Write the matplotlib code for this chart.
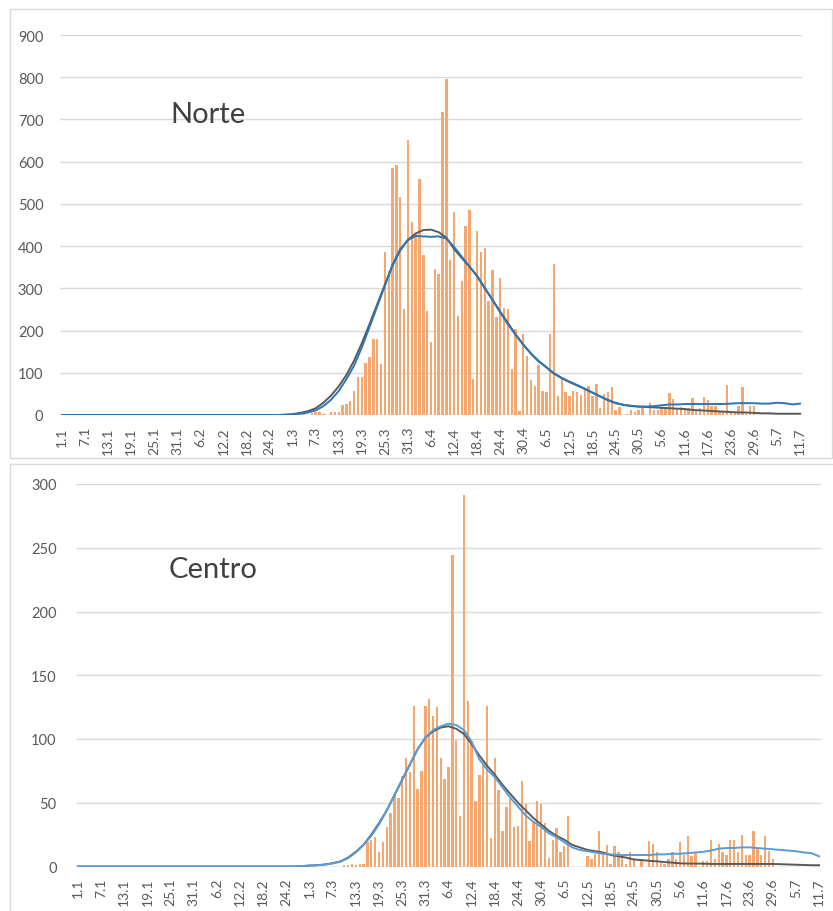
import matplotlib.pyplot as plt
from matplotlib.patches import Rectangle

plt.rcParams['font.family'] = ['Lato', 'DejaVu Sans']

# day categories 1.1 .. 11.7 (193 days), labelled every 6th day
n_days = 193
tick_labels = ['1.1', '7.1', '13.1', '19.1', '25.1', '31.1', '6.2', '12.2', '18.2', '24.2',
               '1.3', '7.3', '13.3', '19.3', '25.3', '31.3', '6.4', '12.4', '18.4', '24.4',
               '30.4', '6.5', '12.5', '18.5', '24.5', '30.5', '5.6', '11.6', '17.6', '23.6',
               '29.6', '5.7', '11.7']

# daily new cases, Norte
norte_cases = [0] * 61 + [
    1, 0, 2, 1, 5, 8, 6, 2, 0, 8, 6, 8,
    24, 25, 34, 58, 91, 91, 123, 137, 180, 180,
    121, 385, 340, 584, 592, 516, 251, 652, 458, 429,
    560, 380, 247, 174, 346, 333, 717, 796, 367, 481,
    235, 318, 447, 486, 85, 436, 386, 395, 270, 344,
    231, 324, 253, 251, 109, 204, 10, 192, 140, 83,
    68, 118, 58, 55, 193, 357, 45, 87, 55, 44,
    58, 54, 47, 62, 68, 44, 73, 16, 50, 54,
    66, 13, 18, 0, 2, 13, 6, 13, 16, 0,
    28, 13, 13, 18, 18, 52, 38, 16, 18, 16,
    16, 40, 10, 16, 42, 36, 22, 22, 6, 6,
    70, 6, 6, 22, 67, 6, 22, 22] + [0] * 12

# daily new cases, Centro
centro_cases = [0] * 69 + [
    1, 1, 2, 1, 2, 2,
    19, 21, 23, 11, 19, 31, 42, 57, 54, 71,
    85, 74, 126, 61, 75, 126, 131, 118, 125, 85,
    69, 78, 244, 99, 40, 291, 130, 98, 51, 72,
    80, 126, 22, 85, 60, 28, 47, 53, 31, 32,
    67, 49, 20, 36, 51, 49, 34, 7, 21, 30,
    11, 16, 40, 0, 0, 0, 0, 8, 6, 10,
    28, 10, 17, 2, 16, 11, 8, 2, 11, 6,
    0, 6, 0, 20, 18, 11, 3, 2, 6, 11,
    6, 19, 9, 24, 8, 11, 0, 4, 4, 21,
    6, 18, 11, 9, 21, 21, 11, 25, 9, 9,
    28, 14, 9, 24, 12, 6] + [0] * 12

# smoothed curves, sampled every second day (flat at zero until day 56)
line_days = list(range(0, 193, 2))

norte_gray = [0] * 28 + [
    0, 1, 2, 5, 9, 16, 29, 46, 68, 95,
    129, 170, 215, 262, 309, 354, 390, 415, 430, 438,
    439, 433, 420, 393, 372, 351, 330, 300, 273, 245,
    218, 191, 167, 145, 127, 113, 98, 87, 78, 70,
    62, 53, 44, 35, 28, 24, 22, 20, 19, 18,
    17, 16, 15, 14, 12, 11, 10, 9, 8, 7,
    6, 6, 5, 4, 4, 3, 3, 3, 3]
norte_blue = [0] * 28 + [
    0, 0, 1, 3, 6, 11, 21, 36, 57, 85,
    117, 160, 208, 257, 306, 356, 393, 414, 424, 423,
    422, 423, 418, 398, 375, 352, 328, 301, 272, 243,
    215, 190, 166, 146, 128, 113, 99, 88, 79, 71,
    62, 53, 44, 36, 29, 24, 21, 20, 20, 21,
    23, 25, 25, 26, 26, 26, 26, 26, 26, 27,
    28, 28, 28, 27, 27, 29, 28, 25, 27]

centro_gray = [0] * 28 + [
    0, 0.3, 0.7, 1, 1.6, 2.6, 4, 7, 11.5, 17,
    25, 34, 44, 56, 68, 80, 92, 101, 106, 109,
    110, 108, 104, 96, 87, 79, 72, 64, 57, 50,
    44, 38, 33, 28, 24, 21, 17, 15, 13, 12,
    11, 9, 8, 7, 5.5, 5, 4.5, 4, 3.5, 3,
    2.5, 2.3, 2.3, 2.2, 2, 2, 2, 2, 2, 2,
    2, 2, 2, 1.8, 1.6, 1.4, 1.2, 1, 1]
centro_blue = [0] * 28 + [
    0, 0.3, 0.7, 1, 1.5, 2.4, 3.8, 6.5, 11, 17,
    24, 33, 44, 56, 68, 80, 92, 101, 107, 110,
    112, 111, 107, 98, 84, 76, 70, 62, 54, 47,
    40, 35, 31, 26, 23, 19, 15, 13, 12, 11,
    10, 9.5, 9, 9, 9, 9, 9, 9.5, 9.5, 10,
    10, 10.5, 11, 11.5, 12.5, 14, 14.5, 14.5, 15, 15,
    14.5, 14, 13.5, 13, 12.5, 12, 11, 10.5, 8]

BAR = '#F4A870'
GRAY = '#595959'
TXT = '#595959'


def draw_panel(ax, cases, gray, blue, blue_color, ymax, ystep, title, title_xy, xpad, ypad):
    days = list(range(n_days))
    ax.bar(days, cases, width=0.62, color=BAR, zorder=2)
    ax.plot(line_days, gray, color=GRAY, lw=1.4, zorder=3)
    ax.plot(line_days, blue, color=blue_color, lw=1.4, zorder=4)

    ax.set_xlim(-0.5, n_days - 0.5)
    ax.set_ylim(0, ymax)
    ax.set_yticks(range(0, ymax + 1, ystep))
    ax.set_xticks(range(0, n_days, 6))
    ax.set_xticklabels(tick_labels, rotation=90)
    ax.tick_params(axis='x', length=0, pad=xpad, labelsize=10, labelcolor=TXT)
    ax.tick_params(axis='y', length=0, pad=ypad, labelsize=10.5, labelcolor=TXT)
    for s in ax.spines.values():
        s.set_visible(False)
    ax.grid(axis='y', color='#D9D9D9', lw=1, zorder=0)
    ax.axhline(0, color='#BFBFBF', lw=1, zorder=1)
    ax.text(title_xy[0], title_xy[1], title, transform=ax.transAxes,
            fontsize=21, color='#404040', va='baseline', ha='left')


fig = plt.figure(figsize=(8.33, 9.12), dpi=100)

# panel frames
fig.patches.append(Rectangle((10 / 833, 1 - 459 / 912), 822 / 833, 449 / 912,
                             transform=fig.transFigure, fill=False, ec='#D9D9D9', lw=1))
fig.patches.append(Rectangle((10 / 833, -0.01), 1.0, 1 - 465 / 912 + 0.01,
                             transform=fig.transFigure, fill=False, ec='#D9D9D9', lw=1))

ax1 = fig.add_axes([60 / 833, 1 - 416 / 912, 742 / 833, 380 / 912])
draw_panel(ax1, norte_cases, norte_gray, norte_blue, '#2E75B6', 900, 100,
           'Norte', (110 / 742, (416 - 123) / 380), 8, 12)

ax2 = fig.add_axes([76 / 833, 1 - 867.5 / 912, 745 / 833, 382.5 / 912])
draw_panel(ax2, centro_cases, centro_gray, centro_blue, '#5B9BD5', 300, 50,
           'Centro', (93 / 745, (867.5 - 578) / 382.5), 8, 14)

fig.savefig('out.png', dpi=100)
